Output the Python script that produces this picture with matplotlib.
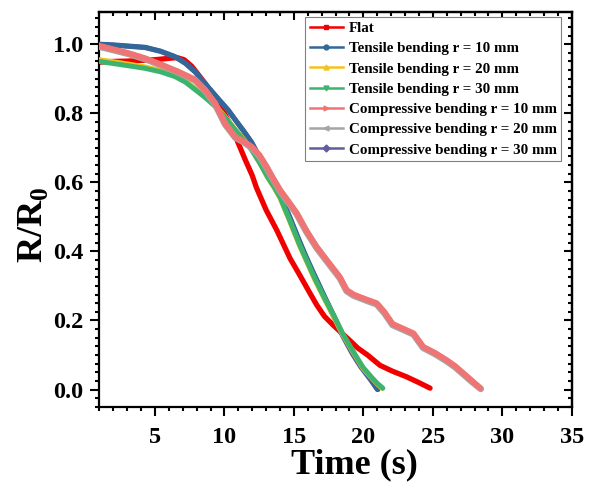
import numpy as np
import matplotlib
matplotlib.use("Agg")
import matplotlib.pyplot as plt
from matplotlib.lines import Line2D
from matplotlib.ticker import MultipleLocator

plt.rcParams['font.family'] = ['Liberation Serif', 'DejaVu Serif']
plt.rcParams['font.weight'] = 'bold'
plt.rcParams['mathtext.fontset'] = 'custom'
plt.rcParams['mathtext.rm'] = 'Liberation Serif:bold'
plt.rcParams['mathtext.bf'] = 'Liberation Serif:bold'

# series
flat_t = [1, 2, 3, 4, 5, 6, 6.6, 7.1, 7.65, 8.1, 8.6, 9.1, 9.55, 10.0, 10.5, 11.0, 11.5, 12.0,
          12.3, 13.0, 13.76, 14.72, 15.44, 16.0, 16.64, 17.2, 17.84, 18.4, 19.0, 19.6, 20.3,
          21.2, 22.1, 23.1, 24.0, 24.8]
flat_r = [0.948, 0.95, 0.951, 0.953, 0.955, 0.959, 0.961, 0.955, 0.936, 0.913, 0.887, 0.858,
          0.83, 0.8, 0.761, 0.713, 0.665, 0.62, 0.585, 0.52, 0.462, 0.38, 0.33, 0.29, 0.245,
          0.212, 0.186, 0.165, 0.143, 0.12, 0.1, 0.07, 0.053, 0.037, 0.02, 0.004]

t10_t = [1, 2, 3, 4.3, 5.4, 6.45, 7.2, 7.9, 8.37, 9.0, 9.6, 10.26, 10.9, 11.4, 11.96, 12.5,
         13.1, 13.6, 14.0, 14.7, 15.4, 15.9, 16.5, 17.2, 17.9, 18.5, 19.2, 19.8, 20.5, 21.05]
t10_r = [1.0, 0.998, 0.995, 0.991, 0.98, 0.964, 0.945, 0.92, 0.897, 0.868, 0.84, 0.81, 0.775,
         0.748, 0.716, 0.675, 0.628, 0.592, 0.565, 0.5, 0.43, 0.383, 0.33, 0.27, 0.212, 0.16,
         0.108, 0.07, 0.032, 0.0]

t20_t = [1, 2, 3, 4.3, 5.4, 6.45, 7.2, 7.9, 8.6, 9.33, 10.05, 10.77, 11.4, 11.96, 12.56, 13.1,
         13.6, 14.0, 14.7, 15.4, 15.9, 16.5, 17.2, 17.9, 18.5, 19.2, 19.96, 20.6, 21.0, 21.35]
t20_r = [0.955, 0.949, 0.943, 0.934, 0.924, 0.91, 0.894, 0.872, 0.85, 0.823, 0.79, 0.754,
         0.724, 0.695, 0.655, 0.615, 0.583, 0.555, 0.487, 0.417, 0.372, 0.318, 0.262, 0.208,
         0.16, 0.112, 0.062, 0.033, 0.016, 0.003]

t30_t = [1, 2, 3, 4.3, 5.4, 6.45, 7.2, 7.9, 8.6, 9.33, 10.05, 10.77, 11.4, 11.96, 12.56, 13.1,
         13.6, 14.0, 14.7, 15.4, 15.9, 16.5, 17.2, 17.9, 18.5, 19.2, 19.96, 20.6, 21.0, 21.4]
t30_r = [0.95, 0.944, 0.938, 0.93, 0.92, 0.906, 0.89, 0.868, 0.846, 0.82, 0.788, 0.752, 0.722,
         0.694, 0.655, 0.616, 0.585, 0.557, 0.49, 0.42, 0.375, 0.322, 0.265, 0.212, 0.163,
         0.115, 0.065, 0.035, 0.018, 0.004]

c10_t = [1, 2, 3.09, 4.3, 5.5, 6.7, 7.9, 8.6, 9.33, 10.05, 10.77, 11.4, 11.96, 12.5, 13.04,
         13.5, 14.0, 14.6, 15.2, 15.9, 16.64, 17.36, 18.3, 18.8, 19.3, 19.75, 20.4, 20.96, 21.5,
         22.1, 23.1, 23.6, 24.3, 25.2, 26.0, 26.6, 27.2, 27.8, 28.4]
c10_r = [0.995, 0.985, 0.974, 0.959, 0.94, 0.92, 0.897, 0.868, 0.829, 0.77, 0.732, 0.718, 0.703,
         0.68, 0.645, 0.612, 0.578, 0.545, 0.511, 0.46, 0.413, 0.375, 0.326, 0.288, 0.275,
         0.268, 0.258, 0.25, 0.225, 0.19, 0.172, 0.163, 0.124, 0.105, 0.085, 0.068, 0.047,
         0.026, 0.004]

c20_t = [1, 2, 3.09, 4.3, 5.5, 6.7, 7.9, 8.6, 9.33, 10.05, 10.77, 11.4, 11.96, 12.5, 13.04,
         13.5, 14.0, 14.6, 15.2, 15.9, 16.64, 17.36, 18.3, 18.8, 19.3, 19.75, 20.4, 20.96, 21.5,
         22.1, 23.1, 23.6, 24.3, 25.2, 26.0, 26.6, 27.2, 27.8, 28.45]
c20_r = [0.993, 0.983, 0.972, 0.957, 0.938, 0.918, 0.895, 0.866, 0.826, 0.768, 0.73, 0.716,
         0.7, 0.677, 0.642, 0.609, 0.575, 0.542, 0.508, 0.457, 0.41, 0.372, 0.323, 0.285,
         0.272, 0.265, 0.255, 0.247, 0.222, 0.187, 0.169, 0.16, 0.121, 0.102, 0.082, 0.065,
         0.044, 0.023, 0.002]

c30_t = [1, 2, 3, 4.3, 5.4, 6.45, 7.2, 7.9, 8.37, 9.0, 9.6, 10.26, 10.9, 11.4, 11.96, 12.5,
         13.1, 13.6, 14.0, 14.7, 15.4, 15.9, 16.5, 17.2, 17.9, 18.5, 19.2, 19.8, 20.5, 21.0]
c30_r = [0.999, 0.997, 0.994, 0.99, 0.979, 0.963, 0.944, 0.919, 0.896, 0.867, 0.839, 0.809,
         0.774, 0.747, 0.715, 0.674, 0.627, 0.591, 0.563, 0.498, 0.428, 0.38, 0.327, 0.267,
         0.208, 0.156, 0.104, 0.066, 0.029, 0.0]

labels = ['Flat', 'Tensile bending r = 10 mm', 'Tensile bending r = 20 mm',
          'Tensile bending r = 30 mm', 'Compressive bending r = 10 mm',
          'Compressive bending r = 20 mm', 'Compressive bending r = 30 mm']
colors = ['#f20000', '#336699', '#f5c21b', '#3cb46e', '#f07474', '#a5a5a5', '#5f5f9e']
markers = ['s', 'o', '^', 'v', '>', '<', 'D']
series = [(flat_t, flat_r), (t10_t, t10_r), (t20_t, t20_r), (t30_t, t30_r),
          (c10_t, c10_r), (c20_t, c20_r), (c30_t, c30_r)]
# drawing order bottom -> top (as seen in the reference)
order = [0, 6, 1, 2, 3, 5, 4]
widths = [3.8, 3.6, 3.6, 3.6, 4.2, 4.8, 3.6]

fig = plt.figure(figsize=(5.95, 4.82), dpi=100)
ax = fig.add_axes([0.167, 0.156, 0.794, 0.819])

for z, i in enumerate(order):
    t, r = series[i]
    ax.plot(t, r, color=colors[i], lw=widths[i], solid_capstyle='round',
            solid_joinstyle='round', zorder=2 + z)

ax.set_xlim(1, 35)
ax.set_ylim(-0.05, 1.093)
ax.set_xticks([5, 10, 15, 20, 25, 30, 35])
ax.set_yticks([0.0, 0.2, 0.4, 0.6, 0.8, 1.0])
ax.xaxis.set_minor_locator(MultipleLocator(1))
ax.yaxis.set_minor_locator(MultipleLocator(0.025))
ax.tick_params(which='both', direction='out', width=1.5, labelsize=17.5,
               top=False, right=False)
ax.tick_params(axis='x', pad=8)
ax.tick_params(axis='y', pad=5)
ax.tick_params(which='major', length=6.5)
ax.tick_params(which='minor', length=3)
for lab in ax.get_xticklabels() + ax.get_yticklabels():
    lab.set_fontweight('bold')
for s in ax.spines.values():
    s.set_linewidth(1.6)

# mirrored axes with inward ticks on top and right
top = ax.secondary_xaxis('top')
top.set_xticks([5, 10, 15, 20, 25, 30, 35])
top.xaxis.set_minor_locator(MultipleLocator(1))
top.tick_params(which='both', direction='in', width=1.5, labeltop=False)
top.tick_params(which='major', length=6)
top.tick_params(which='minor', length=3)
right = ax.secondary_yaxis('right')
right.set_yticks([0.0, 0.2, 0.4, 0.6, 0.8, 1.0])
right.yaxis.set_minor_locator(MultipleLocator(0.025))
right.tick_params(which='both', direction='in', width=1.5, labelright=False)
right.tick_params(which='major', length=6)
right.tick_params(which='minor', length=3)
top.spines['top'].set_linewidth(1.6)
right.spines['right'].set_linewidth(1.6)

ax.set_xlabel('Time (s)', fontsize=26, fontweight='bold')
ax.set_ylabel('R/R$_0$', fontsize=26, fontweight='bold')
ax.xaxis.set_label_coords(0.54, -0.105)
ax.yaxis.set_label_coords(-0.105, 0.46)

handles = [Line2D([], [], color=colors[i], lw=1.8, marker=markers[i], markersize=3.5)
           for i in range(len(labels))]
leg = ax.legend(handles, labels, loc='upper right', bbox_to_anchor=(0.978, 0.987),
                borderaxespad=0, fancybox=False, framealpha=1, edgecolor='#808080',
                prop={'size': 10.8, 'weight': 'bold'}, handlelength=2.2, handletextpad=0.4,
                labelspacing=0.45, borderpad=0.3)
leg.get_frame().set_linewidth(0.8)

fig.savefig('out.png', dpi=100)
